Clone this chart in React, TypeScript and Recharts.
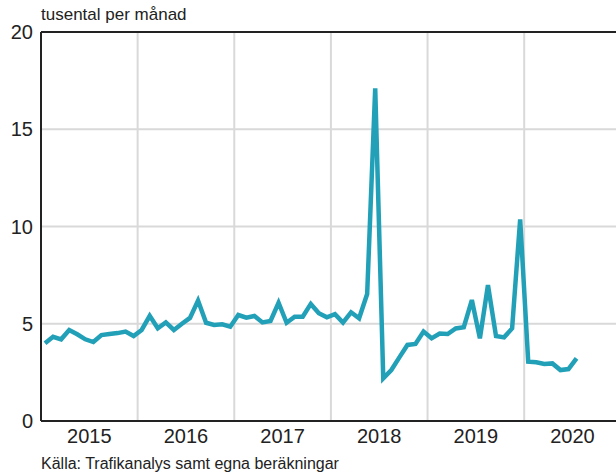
import { LineChart, Line, XAxis, YAxis, CartesianGrid, ReferenceLine } from 'recharts';

// Monthly values, thousands per month (tusental per månad)
const years = [2015, 2016, 2017, 2018, 2019, 2020];
const values2015 = [4.0, 4.33, 4.2, 4.68, 4.46, 4.2, 4.06, 4.42, 4.47, 4.52, 4.6, 4.37];
const values2016 = [4.68, 5.41, 4.77, 5.07, 4.68, 5.0, 5.3, 6.19, 5.05, 4.94, 4.97, 4.85];
const values2017 = [5.45, 5.31, 5.4, 5.07, 5.14, 6.08, 5.05, 5.36, 5.36, 6.02, 5.54, 5.33];
const values2018 = [5.49, 5.06, 5.59, 5.28, 6.53, 17.1, 2.19, 2.62, 3.27, 3.91, 3.96, 4.6];
const values2019 = [4.25, 4.5, 4.47, 4.76, 4.82, 6.22, 4.25, 6.99, 4.37, 4.3, 4.76, 10.37];
const values2020 = [3.05, 3.02, 2.93, 2.96, 2.62, 2.67, 3.22];

const yTicks = [0, 5, 10, 15, 20];
const yearTicks = [2015.5, 2016.5, 2017.5, 2018.5, 2019.5, 2020.5];
const yearBoundaries = [2016, 2017, 2018, 2019, 2020];

const series = [values2015, values2016, values2017, values2018, values2019, values2020];
const data = series.flatMap((vals, yi) =>
  vals.map((v, m) => ({ t: years[yi] + (m + 0.5) / 12, value: v }))
);

const FONT = '"Liberation Sans", Arial, sans-serif';

export default function App() {
  return (
    <div style={{ position: 'relative', width: 616, height: 476, fontFamily: FONT, color: '#222' }}>
      <style>{'body{margin:0;}'}</style>
      <div style={{ position: 'absolute', left: 41, top: 5, fontSize: 17 }}>tusental per månad</div>
      <LineChart width={616} height={476} data={data} margin={{ top: 32, right: 0, left: 0, bottom: 25 }}>
        <CartesianGrid vertical={false} stroke="#d9d9d9" strokeWidth={2} />
        {yearBoundaries.map(b => (
          <ReferenceLine key={b} x={b} stroke="#d9d9d9" strokeWidth={2} />
        ))}
        <ReferenceLine y={20} stroke="#222" strokeWidth={2} />
        <XAxis
          dataKey="t"
          type="number"
          domain={[2015, 2020.95]}
          ticks={yearTicks}
          tickFormatter={v => String(Math.floor(v))}
          tickLine={false}
          axisLine={{ stroke: '#222', strokeWidth: 2 }}
          tick={{ fontSize: 20, fill: '#222', fontFamily: FONT }}
          height={30}
          allowDataOverflow
        />
        <YAxis
          width={41}
          domain={[0, 20]}
          ticks={yTicks}
          tickLine={false}
          axisLine={{ stroke: '#222', strokeWidth: 2 }}
          tick={{ fontSize: 20, fill: '#222', fontFamily: FONT }}
        />
        <Line
          type="linear"
          dataKey="value"
          stroke="#22a0b8"
          strokeWidth={4.5}
          dot={false}
          isAnimationActive={false}
        />
      </LineChart>
      <div style={{ position: 'absolute', left: 41, top: 455, fontSize: 16 }}>
        Källa: Trafikanalys samt egna beräkningar
      </div>
    </div>
  );
}
